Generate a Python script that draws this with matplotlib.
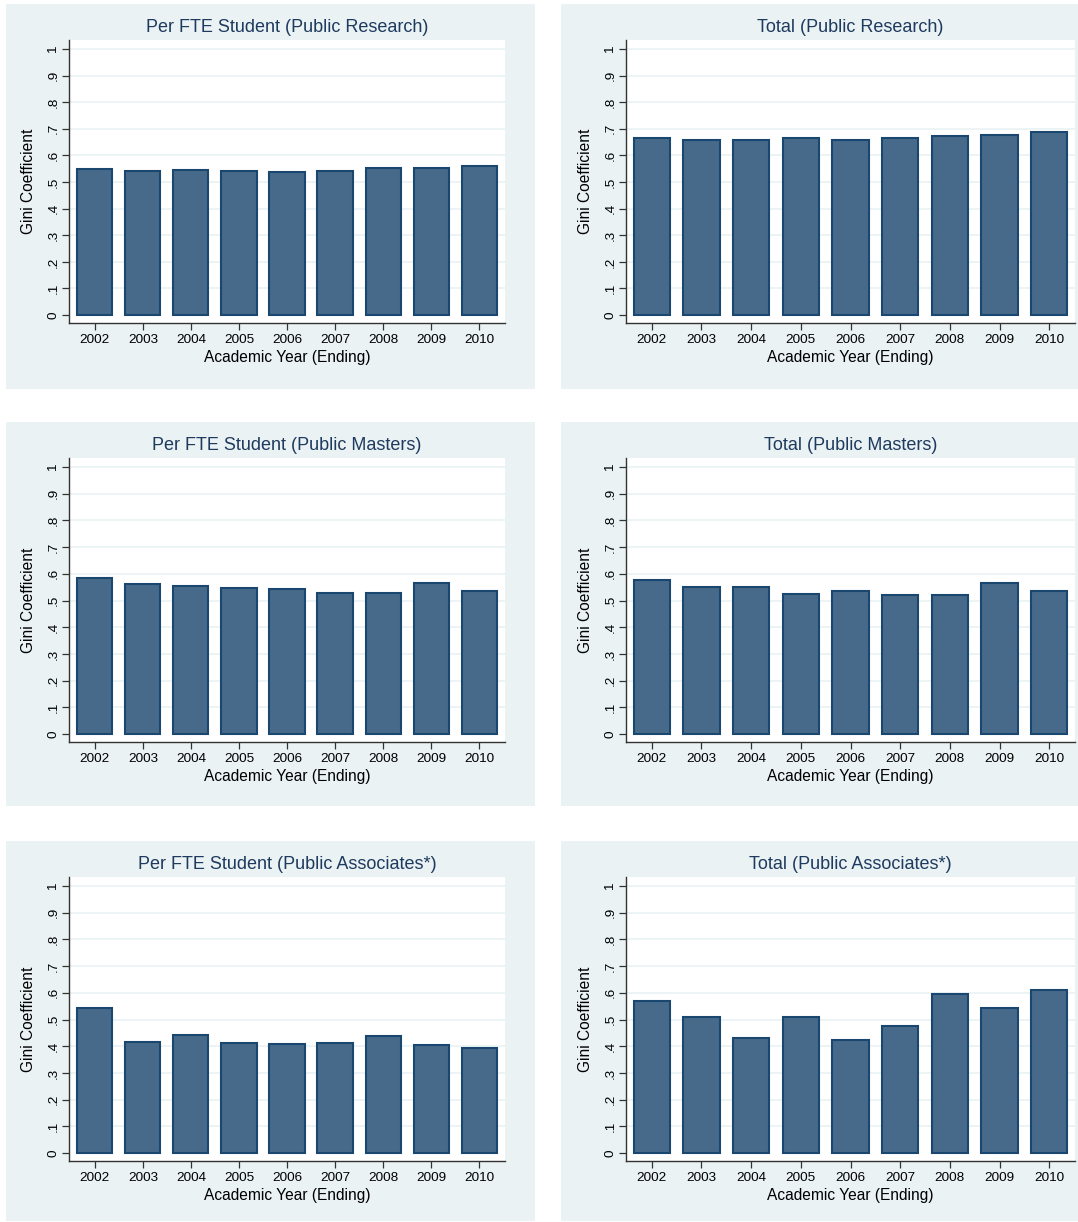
import matplotlib
matplotlib.use("Agg")
import matplotlib.pyplot as plt
import matplotlib.patches as patches

plt.rcParams['font.family'] = ['Liberation Sans', 'DejaVu Sans']

years = ['2002', '2003', '2004', '2005', '2006', '2007', '2008', '2009', '2010']
ytick_vals = [0, .1, .2, .3, .4, .5, .6, .7, .8, .9, 1]
ytick_labels = ['0', '.1', '.2', '.3', '.4', '.5', '.6', '.7', '.8', '.9', '1']

titles = [
    "Per FTE Student (Public Research)", "Total (Public Research)",
    "Per FTE Student (Public Masters)", "Total (Public Masters)",
    "Per FTE Student (Public Associates*)", "Total (Public Associates*)",
]

per_fte_research = [0.548, 0.540, 0.544, 0.540, 0.536, 0.540, 0.551, 0.551, 0.559]
total_research = [0.664, 0.659, 0.659, 0.664, 0.659, 0.664, 0.672, 0.675, 0.687]
per_fte_masters = [0.584, 0.562, 0.554, 0.547, 0.543, 0.528, 0.528, 0.566, 0.536]
total_masters = [0.577, 0.551, 0.551, 0.524, 0.536, 0.521, 0.521, 0.566, 0.536]
per_fte_assoc = [0.544, 0.417, 0.443, 0.413, 0.409, 0.413, 0.439, 0.405, 0.394]
total_assoc = [0.571, 0.511, 0.432, 0.511, 0.424, 0.477, 0.597, 0.544, 0.612]

series = [per_fte_research, total_research, per_fte_masters,
          total_masters, per_fte_assoc, total_assoc]

W, H = 1078, 1222
bg = '#EAF2F3'
bar_fill = '#476A8A'
bar_edge = '#1A476F'
title_col = '#1E3A5F'

fig = plt.figure(figsize=(W / 100, H / 100), dpi=100)

# panel backgrounds (pixel boxes: x0, y0, x1, y1)
col_bg = [(6, 535), (561, 1078)]
row_bg = [(4, 389), (422, 806), (841, 1221)]
# plot regions
col_ax = [(69, 505), (626, 1075)]
row_ax = [(40, 323), (458, 742), (877, 1161)]

def px_rect(x0, y0, x1, y1):
    return [x0 / W, 1 - y1 / H, (x1 - x0) / W, (y1 - y0) / H]

for r in range(3):
    for c in range(2):
        x0, x1 = col_bg[c]
        y0, y1 = row_bg[r]
        fx, fy, fw, fh = px_rect(x0, y0, x1, y1)
        fig.patches.append(patches.Rectangle((fx, fy), fw, fh, transform=fig.transFigure,
                                             facecolor=bg, edgecolor='none', zorder=-10))

for k in range(6):
    r, c = k // 2, k % 2
    ax = fig.add_axes(px_rect(col_ax[c][0], row_ax[r][0], col_ax[c][1], row_ax[r][1]))
    ax.set_facecolor('white')
    xs = list(range(len(years)))
    ax.bar(xs, series[k], width=0.73, color=bar_fill, edgecolor=bar_edge,
           linewidth=1.5, zorder=3)
    ax.set_xlim(-0.54, 8.54) if c == 0 else ax.set_xlim(-0.52, 8.52)
    ax.set_ylim(-0.03, 1.034)
    ax.set_yticks(ytick_vals)
    ax.set_yticklabels(ytick_labels, rotation=90, va='center', fontsize=9.7)
    ax.set_xticks(xs)
    ax.set_xticklabels(years, fontsize=9.7)
    for y in ytick_vals[1:]:
        ax.axhline(y, color=bg, linewidth=1.2, zorder=1)
    for s in ['top', 'right']:
        ax.spines[s].set_visible(False)
    for s in ['left', 'bottom']:
        ax.spines[s].set_color('#333333')
        ax.spines[s].set_linewidth(1.0)
    ax.tick_params(axis='both', direction='out', length=5, width=0.9,
                   color='#333333', pad=3)
    ax.tick_params(axis='y', pad=2)
    ax.set_title(titles[k], fontsize=13, color=title_col, pad=6)
    ax.set_xlabel("Academic Year (Ending)", fontsize=11.2, labelpad=3)
    ax.set_ylabel("Gini Coefficient", fontsize=11.2, labelpad=8)

fig.savefig("out.png", dpi=100)
